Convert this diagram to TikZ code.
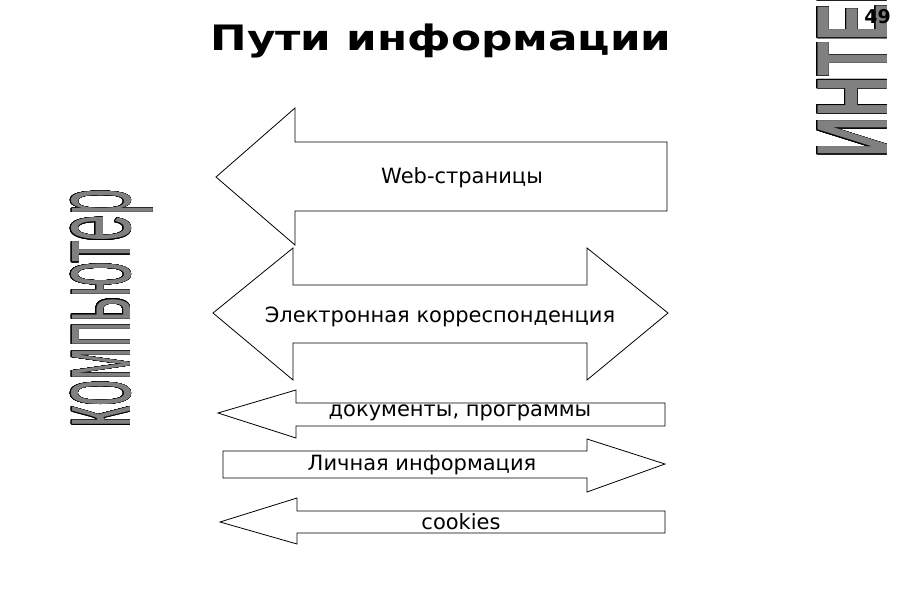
\documentclass[tikz,border=0pt]{standalone}
\usepackage{fontspec}
\usepackage[copies]{contour}
\setmainfont{DejaVu Sans}
\newfontfamily\narrowfont{Liberation Sans}
\definecolor{lettergray}{RGB}{128,128,128}
\contourlength{0.5pt}
\contournumber{24}
\tikzset{
  arrowshape/.style={draw=black, line width=0.8pt, fill=white, line join=miter},
  lbl/.style={inner sep=0pt, font=\fontsize{21}{21}\selectfont},
  bigword/.style={inner sep=0pt, text=lettergray, rotate=90, anchor=base west},
}
\begin{document}
\begin{tikzpicture}[x=1pt,y=-1pt]
\useasboundingbox (0,0) rectangle (900,600);
\fill[white] (0,0) rectangle (900,600);
\begin{scope}
\clip (0,0) rectangle (900,600);
% vertical words
\node[bigword] (inet) at (887,158) {\scalebox{0.56}[1]{\narrowfont\bfseries\fontsize{101}{101}\selectfont\contour{black}{ИНТЕРНЕТ}}};
\node[bigword] (comp) at (130,428) {\scalebox{0.43}[1]{\narrowfont\fontsize{110}{110}\selectfont\contour{black}{компьютер}}};
\end{scope}
% title
\node[inner sep=0pt, font=\bfseries\fontsize{35}{35}\selectfont] (title) at (441,41) {\scalebox{1.25}[1]{Пути информации}};
\node[inner sep=0pt, font=\bfseries\fontsize{19}{19}\selectfont, anchor=north east] (num) at (891,9) {49};
% arrow 1: Web pages (left)
\draw[arrowshape] (216,177) -- (295,108) -- (295,142) -- (667,142) -- (667,211) -- (295,211) -- (295,245) -- cycle;
% arrow 2: e-mail (double)
\draw[arrowshape] (213,313) -- (293,248) -- (293,285) -- (587,285) -- (587,248) -- (668,313) -- (587,380) -- (587,343) -- (293,343) -- (293,380) -- cycle;
% arrow 3: documents (left)
\draw[arrowshape] (218,413) -- (296,390) -- (296,403) -- (665,403) -- (665,426) -- (296,426) -- (296,438) -- cycle;
% arrow 4: personal info (right)
\draw[arrowshape] (223,451) -- (587,451) -- (587,439) -- (665,464) -- (587,492) -- (587,478) -- (223,478) -- cycle;
% arrow 5: cookies (left)
\draw[arrowshape] (220,522) -- (297,498) -- (297,511) -- (665,511) -- (665,533) -- (297,533) -- (297,544) -- cycle;
% labels
\node[lbl] (web) at (462,178) {Web-страницы};
\node[lbl] (mail) at (440,317) {Электронная корреспонденция};
\node[lbl] (docs) at (460,413) {документы, программы};
\node[lbl] (pers) at (422,465) {Личная информация};
\node[lbl] (cook) at (461,522) {cookies};
\end{tikzpicture}
\end{document}
